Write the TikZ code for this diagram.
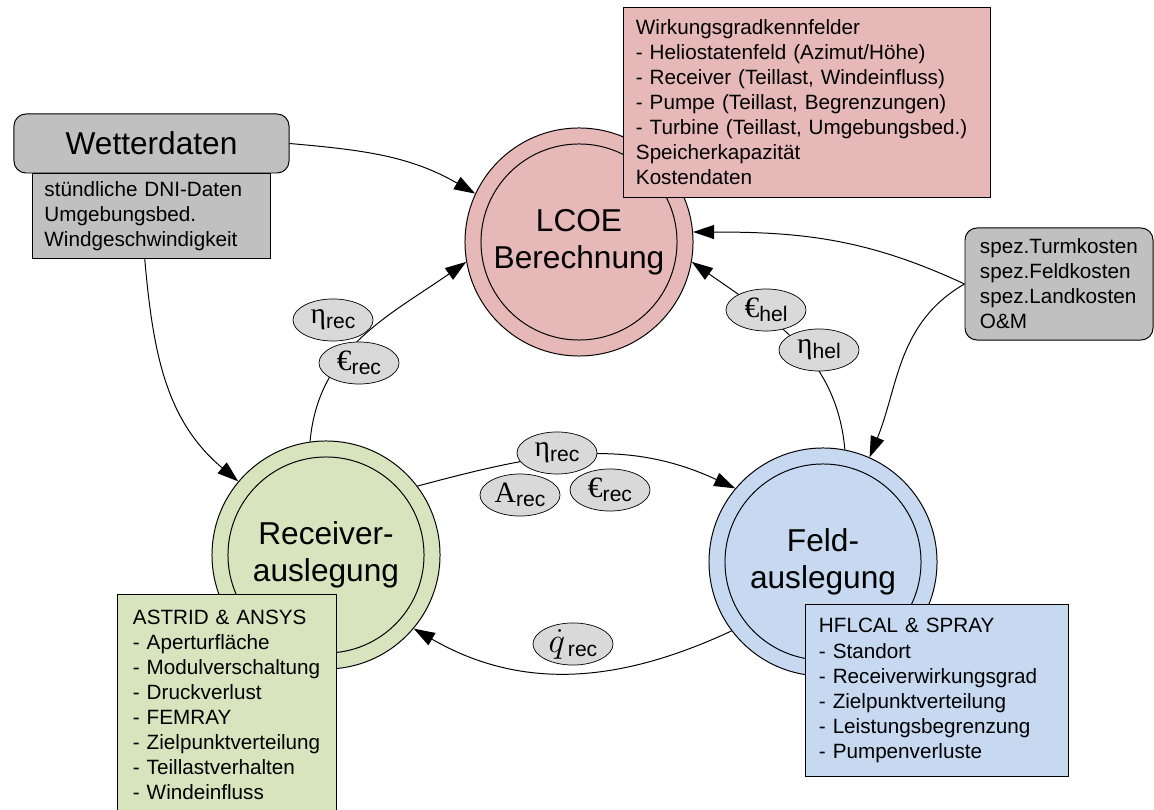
\documentclass[tikz,border=0pt]{standalone}
\usepackage{fontspec}
\setmainfont{Liberation Sans}
\newfontfamily\symserif{Liberation Serif}
\usetikzlibrary{arrows.meta, positioning, shapes.geometric}
\definecolor{LcoeRed}{RGB}{230,184,184}
\definecolor{RecGreen}{RGB}{215,228,189}
\definecolor{FieldBlue}{RGB}{198,217,241}
\definecolor{BoxGray}{RGB}{192,192,192}
\definecolor{TagGray}{RGB}{217,217,217}
\newcommand{\bigtxt}{\fontsize{22.5}{26.5}\selectfont}
\newcommand{\boxtxt}{\fontsize{14.7}{17.8}\selectfont}
\newcommand{\subtxt}{\fontsize{15}{17}\selectfont}
\newcommand{\varsub}[2]{{\fontsize{21}{22}\selectfont\symserif #1}\raisebox{-0.6ex}{\subtxt #2}}

\begin{document}
\begin{tikzpicture}[
    x=0.025cm, y=0.025cm,
    stage/.style={circle, draw, line width=0.7pt, minimum size=5.7cm, align=center, font=\bigtxt},
    info/.style={draw, line width=0.7pt, align=left, font=\boxtxt, inner ysep=0pt},
    tag/.style={ellipse, draw, line width=0.5pt, fill=TagGray, minimum width=2cm, minimum height=1.05cm, inner sep=0pt},
    flow/.style={-{Triangle[length=15pt, width=10pt]}, line width=0.7pt},
]

\useasboundingbox (0,0) rectangle (1154,809);

% ============ Stufen ============
\node[stage, fill=LcoeRed] (lcoe) at (579,567) {LCOE\\Berechnung};
\node[stage, fill=RecGreen] (recv) at (326,254) {Receiver-\\auslegung};
\node[stage, fill=FieldBlue] (feld) at (823,247) {Feld-\\auslegung};
\foreach \n in {lcoe, recv, feld}
    \draw[line width=0.7pt] (\n.center) circle[radius=2.45cm];

% ============ Eingangsdaten ============
\node[info, fill=BoxGray, rounded corners=0.3cm, minimum width=6.875cm, minimum height=1.475cm,
      align=center, font=\bigtxt] (wetter) at (151.5,665.5) {Wetterdaten};
\node[info, fill=BoxGray, below=0pt of wetter, text width=5.35cm, inner xsep=0.3cm, minimum height=2.1cm] (wetterinfo)
    {stündliche DNI-Daten\\Umgebungsbed.\\Windgeschwindigkeit};

\node[info, fill=LcoeRed, text width=8.55cm, inner xsep=0.3cm, minimum height=4.725cm] (kennfeld) at (807,706.5)
    {Wirkungsgradkennfelder\\- Heliostatenfeld (Azimut/Höhe)\\- Receiver (Teillast, Windeinfluss)\\- Pumpe (Teillast, Begrenzungen)\\- Turbine (Teillast, Umgebungsbed.)\\Speicherkapazität\\Kostendaten};

\node[info, fill=BoxGray, rounded corners=0.3cm, text width=3.95cm, inner xsep=0.375cm, minimum height=2.8cm] (kosten) at (1059,525)
    {spez.Turmkosten\\spez.Feldkosten\\spez.Landkosten\\O\&M};

% ============ Werkzeuge ============
\node[info, fill=RecGreen, text width=4.7cm, inner xsep=0.375cm, minimum height=5.5cm] (recinfo) at (227,104)
    {ASTRID \& ANSYS\\- Aperturfläche\\- Modulverschaltung\\- Druckverlust\\- FEMRAY\\- Zielpunktverteilung\\- Teillastverhalten\\- Windeinfluss};

\node[info, fill=FieldBlue, text width=5.9cm, inner xsep=0.325cm, minimum height=4.275cm] (feldinfo) at (937,118.5)
    {HFLCAL \& SPRAY\\- Standort\\- Receiverwirkungsgrad\\- Zielpunktverteilung\\- Leistungsbegrenzung\\- Pumpenverluste};

% ============ Verbindungen ============
\draw[flow] (wetter.east) to[out=-5, in=150] (lcoe.155);
\draw[flow] ([xshift=-0.17cm]wetterinfo.south) to[out=-85, in=140] (recv.140);
\draw[flow] (recv.98) to[out=85, in=-145] (lcoe.190);
\draw[flow] (feld.79) to[out=95, in=-35] (lcoe.-10);
\draw[flow] (kosten.west) to[out=155, in=0] (lcoe.5);
\draw[flow] (kosten.west) to[out=-150, in=68] (feld.66);
\draw[flow] (recv.37) to[out=15, in=155] (feld.140);
\draw[flow] (feld.217) to[out=-155, in=-30] (recv.-40);

% ============ Groessen ============
\node[tag] (etarecA) at (333,489) {\varsub{η}{rec}};
\node[tag] (eurrecA) at (359,446) {\varsub{€}{rec}};
\node[tag] (eurhel) at (766,499) {\varsub{€}{hel}};
\node[tag] (etahel) at (819,459) {\varsub{η}{hel}};
\node[tag] (etarecB) at (557,356) {\varsub{η}{rec}};
\node[tag] (arec) at (520,314) {\varsub{A}{rec}};
\node[tag] (eurrecB) at (610,319) {\varsub{€}{rec}};
\node[tag] (qrec) at (573,165) {{\fontsize{25}{26}\selectfont$\dot{q}$}\kern2pt\raisebox{-0.6ex}{\subtxt rec}};

\end{tikzpicture}
\end{document}
